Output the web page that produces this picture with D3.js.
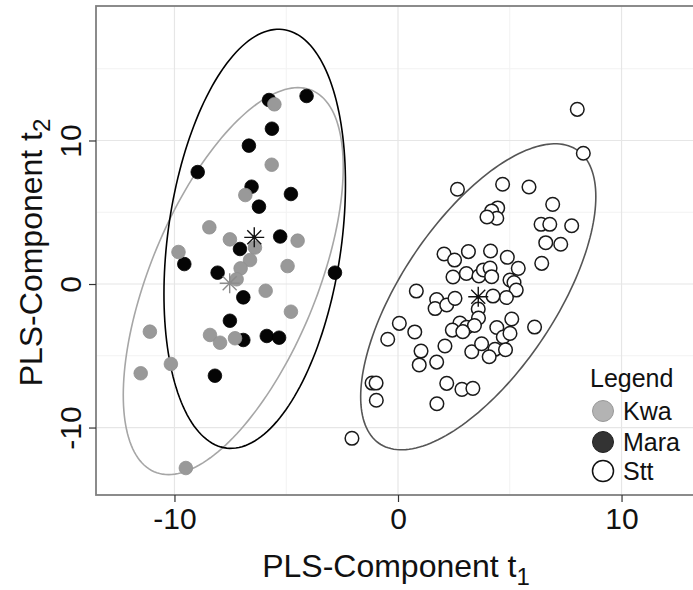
<!DOCTYPE html>
<html><head><meta charset="utf-8">
<script src="https://cdn.jsdelivr.net/npm/d3@7"></script>
<style>
html,body{margin:0;padding:0;background:#fff;}
svg{display:block;font-family:"Liberation Sans",Arial,Helvetica,sans-serif;}
</style></head>
<body>
<svg id="chart" width="693" height="590"></svg>
<script>
// ---------- data ----------
const groups = ["Kwa", "Mara", "Stt"];
const kwaX = [-5.53,-5.65,-6.83,-8.44,-7.52,-4.49,-9.82,-6.40,-6.62,-7.04,-7.22,-4.94,-5.92,-4.79,-11.10,-8.41,-7.96,-7.29,-10.16,-11.51,-9.49];
const kwaY = [12.52,8.31,6.20,3.95,3.11,3.02,2.23,2.54,1.67,1.09,0.33,1.25,-0.47,-1.93,-3.32,-3.55,-4.09,-3.78,-5.57,-6.22,-12.82];
const maraX = [-5.77,-4.09,-5.64,-6.67,-8.96,-6.55,-4.79,-6.22,-5.27,-7.07,-9.56,-8.07,-2.82,-6.92,-7.52,-6.92,-5.87,-5.32,-8.19];
const maraY = [12.82,13.10,10.82,9.64,7.80,6.78,6.27,5.39,3.31,2.44,1.39,0.79,0.79,-0.93,-2.56,-3.90,-3.62,-3.74,-6.39];
const sttX = [8.02,8.29,2.66,4.68,5.86,6.92,4.46,4.19,4.42,3.98,6.40,6.79,7.77,6.61,7.28,2.06,3.15,4.14,2.53,4.89,
  5.38,6.43,2.46,3.06,3.62,3.82,4.12,4.19,5.01,5.19,5.29,4.85,4.25,0.82,1.73,1.66,2.18,2.55,3.59,3.60,
  2.77,3.07,3.42,4.42,5.09,2.43,4.71,5.01,6.11,0.06,-0.46,0.75,2.90,2.10,1.03,0.95,1.73,3.30,3.74,4.34,
  4.81,4.08,-1.16,-0.98,-0.97,2.18,2.86,3.35,1.74,-2.06];
const sttY = [12.17,9.11,6.60,6.95,6.76,5.55,5.30,5.09,4.58,4.67,4.16,4.16,4.06,2.88,2.77,2.09,2.26,2.30,1.67,1.86,
  1.09,1.44,0.49,0.73,0.56,0.98,1.11,0.51,0.28,0.10,-0.42,-0.94,-0.84,-0.49,-1.08,-1.71,-1.46,-1.00,-1.74,-2.37,
  -2.72,-3.02,-2.89,-3.03,-2.44,-3.21,-3.69,-3.44,-3.00,-2.74,-3.85,-3.34,-3.32,-4.32,-4.67,-5.64,-5.44,-4.72,-4.16,-4.55,
  -4.58,-5.07,-6.90,-6.90,-8.10,-6.92,-7.34,-7.27,-8.34,-10.75];
// group centres (asterisks)
const centreX = [-7.53, -6.43, 3.59];
const centreY = [0.05, 3.25, -0.89];
// confidence ellipses: centre, spread along x, spread along y, correlation
const ellCx = [-7.37, -6.41, 3.59];
const ellCy = [0.20, 3.15, -0.89];
const ellSx = [4.92, 4.06, 5.26];
const ellSy = [13.48, 14.60, 10.66];
const ellR  = [0.589, 0.263, 0.654];
const xTicks = [-10, 0, 10];
const yTicks = [-10, 0, 10];
const xMinor = [-5, 5];
const yMinor = [-5, 5, 15];
const xDomain = [-13.51, 13.51];
const yDomain = [-14.70, 19.37];

// ---------- styles ----------
const pointFill   = {Kwa:"#999999", Mara:"#050505", Stt:"#ffffff"};
const pointStroke = {Kwa:"#8f8f8f", Mara:"#000000", Stt:"#1a1a1a"};
const legendFill  = {Kwa:"#b3b3b3", Mara:"#333333", Stt:"#ffffff"};
const legendStroke= {Kwa:"#999999", Mara:"#222222", Stt:"#111111"};
const ellColor    = {Kwa:"#a6a6a6", Mara:"#000000", Stt:"#555555"};
const starColor   = {Kwa:"#8c8c8c", Mara:"#111111", Stt:"#111111"};

const svg = d3.select("#chart");
const L = 96, T = 6, R = 700, B = 495;
const x = d3.scaleLinear().domain(xDomain).range([L, R]);
const y = d3.scaleLinear().domain(yDomain).range([B, T]);

svg.append("defs").append("clipPath").attr("id","clip")
  .append("rect").attr("x",L).attr("y",T).attr("width",R-L).attr("height",B-T);

// panel background
svg.append("rect").attr("x",L).attr("y",T).attr("width",R-L).attr("height",B-T).attr("fill","#fff");

// grid
const grid = svg.append("g");
grid.selectAll(".gxm").data(xMinor).join("line")
  .attr("x1",d=>x(d)).attr("x2",d=>x(d)).attr("y1",T).attr("y2",B)
  .attr("stroke","#f2f2f2").attr("stroke-width",1);
grid.selectAll(".gym").data(yMinor).join("line")
  .attr("y1",d=>y(d)).attr("y2",d=>y(d)).attr("x1",L).attr("x2",R)
  .attr("stroke","#f2f2f2").attr("stroke-width",1);
grid.selectAll(".gx").data(xTicks).join("line")
  .attr("x1",d=>x(d)).attr("x2",d=>x(d)).attr("y1",T).attr("y2",B)
  .attr("stroke","#e6e6e6").attr("stroke-width",1.2);
grid.selectAll(".gy").data(yTicks).join("line")
  .attr("y1",d=>y(d)).attr("y2",d=>y(d)).attr("x1",L).attr("x2",R)
  .attr("stroke","#e6e6e6").attr("stroke-width",1.2);

const plot = svg.append("g").attr("clip-path","url(#clip)");

// ellipses
const tSteps = d3.range(0, 361, 2).map(a => a * Math.PI / 180);
groups.forEach((g, i) => {
  const pts = tSteps.map(t => [
    x(ellCx[i] + ellSx[i] * Math.cos(t)),
    y(ellCy[i] + ellSy[i] * (ellR[i] * Math.cos(t) + Math.sqrt(1 - ellR[i]*ellR[i]) * Math.sin(t)))
  ]);
  plot.append("path").attr("d", d3.line()(pts))
    .attr("fill","none").attr("stroke",ellColor[g]).attr("stroke-width",1.6);
});

// points
const series = {
  Mara: d3.zip(maraX, maraY),
  Kwa: d3.zip(kwaX, kwaY),
  Stt: d3.zip(sttX, sttY)
};
["Mara","Kwa","Stt"].forEach(g => {
  plot.append("g").selectAll("circle").data(series[g]).join("circle")
    .attr("cx",d=>x(d[0])).attr("cy",d=>y(d[1])).attr("r",6.8)
    .attr("fill",pointFill[g]).attr("stroke",pointStroke[g])
    .attr("stroke-width", g==="Stt" ? 1.5 : 0.8);
});

// centre asterisks
groups.forEach((g, i) => {
  const cx = x(centreX[i]), cy = y(centreY[i]), r = 10, d = 7;
  plot.append("path")
    .attr("d", `M${cx-r},${cy}H${cx+r}M${cx},${cy-r}V${cy+r}M${cx-d},${cy-d}L${cx+d},${cy+d}M${cx-d},${cy+d}L${cx+d},${cy-d}`)
    .attr("stroke",starColor[g]).attr("stroke-width",1.4).attr("fill","none");
  plot.append("circle").attr("cx",cx).attr("cy",cy).attr("r",2).attr("fill",starColor[g]);
});

// panel border
svg.append("rect").attr("x",L).attr("y",T).attr("width",R-L).attr("height",B-T)
  .attr("fill","none").attr("stroke","#7f7f7f").attr("stroke-width",1.8);

// axes
const xAxis = svg.append("g").attr("transform",`translate(0,${B})`)
  .call(d3.axisBottom(x).tickValues(xTicks).tickSize(7).tickPadding(6).tickFormat(d3.format("d")));
xAxis.select(".domain").remove();
xAxis.selectAll("line").attr("stroke","#333").attr("stroke-width",1.2);
xAxis.selectAll("text").attr("font-size",30).attr("fill","#111")
  .attr("font-family",'"Liberation Sans",Arial,sans-serif').text(d => d < 0 ? "-" + Math.abs(d) : d);

const yAxis = svg.append("g").attr("transform",`translate(${L},0)`)
  .call(d3.axisLeft(y).tickValues(yTicks).tickSize(7).tickPadding(6).tickFormat(d3.format("d")));
yAxis.select(".domain").remove();
yAxis.selectAll("line").attr("stroke","#333").attr("stroke-width",1.2);
yAxis.selectAll("text").attr("font-size",30).attr("fill","#111")
  .attr("font-family",'"Liberation Sans",Arial,sans-serif')
  .attr("text-anchor","middle").attr("x",0).attr("dy",0)
  .attr("transform","translate(-15,0) rotate(-90)")
  .text(d => d < 0 ? "-" + Math.abs(d) : d);

// axis titles
const xt = svg.append("text").attr("x",(L+R)/2 - 2).attr("y",577)
  .attr("text-anchor","middle").attr("font-size",32).attr("fill","#111");
xt.append("tspan").text("PLS-Component t");
xt.append("tspan").attr("font-size",24).attr("dy",8).text("1");

const yt = svg.append("text").attr("transform",`translate(42,${(T+B)/2+2}) rotate(-90)`)
  .attr("text-anchor","middle").attr("font-size",32).attr("fill","#111");
yt.append("tspan").text("PLS-Component t");
yt.append("tspan").attr("font-size",24).attr("dy",8).text("2");

// legend
const lg = svg.append("g");
lg.append("text").attr("x",590).attr("y",387).attr("font-size",25).attr("fill","#111").text("Legend");
const legY = [411, 442, 471];
groups.forEach((g, i) => {
  lg.append("circle").attr("cx",603).attr("cy",legY[i]).attr("r",10.5)
    .attr("fill",legendFill[g]).attr("stroke",legendStroke[g]).attr("stroke-width", g==="Stt"?1.5:1);
  lg.append("text").attr("x",623).attr("y",legY[i]+8.5).attr("font-size",25).attr("fill","#111").text(g);
});
</script>
</body></html>
